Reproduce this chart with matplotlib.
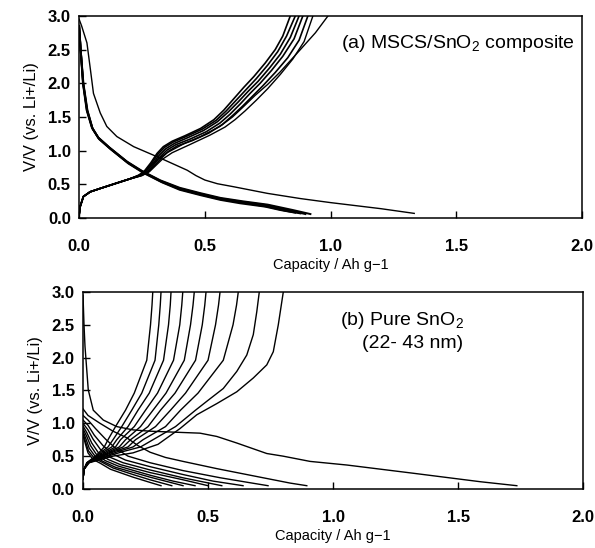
#!/usr/bin/env python
# -*- coding: utf-8 -*-

"""
充放电曲线图 (a) MSCS/SnO2 复合材料  (b) 纯 SnO2
"""

import matplotlib
matplotlib.use("Agg")
import matplotlib.pyplot as plt

# ---------------- (a) MSCS/SnO2 composite ----------------
# 首次放电
a_dis_1 = [(0.0, 2.95), (0.01, 2.85), (0.031, 2.6), (0.045, 2.2), (0.057, 1.85),
           (0.084, 1.56), (0.11, 1.36), (0.15, 1.21), (0.217, 1.06), (0.323, 0.89),
           (0.43, 0.71), (0.465, 0.63), (0.50, 0.565), (0.55, 0.51), (0.615, 0.465),
           (0.749, 0.367), (0.88, 0.29), (1.0, 0.23), (1.2, 0.14), (1.333, 0.07)]
# 后续放电 (粗线束)
a_dis_2 = [(0.0, 2.85), (0.006, 2.5), (0.015, 2.0), (0.03, 1.6), (0.05, 1.35),
           (0.075, 1.2), (0.12, 1.05), (0.19, 0.84), (0.25, 0.7), (0.323, 0.56),
           (0.40, 0.45), (0.483, 0.37), (0.562, 0.30), (0.65, 0.25), (0.75, 0.20),
           (0.85, 0.12), (0.92, 0.06)]
a_dis_3 = [(0.0, 2.85), (0.006, 2.5), (0.016, 2.0), (0.031, 1.6), (0.052, 1.34),
           (0.077, 1.19), (0.122, 1.04), (0.192, 0.83), (0.252, 0.69), (0.325, 0.55),
           (0.40, 0.44), (0.483, 0.36), (0.562, 0.29), (0.65, 0.24), (0.75, 0.19),
           (0.83, 0.12), (0.90, 0.06)]
a_dis_4 = [(0.0, 2.85), (0.006, 2.5), (0.016, 2.0), (0.032, 1.6), (0.053, 1.33),
           (0.078, 1.18), (0.124, 1.03), (0.194, 0.82), (0.254, 0.68), (0.327, 0.54),
           (0.40, 0.43), (0.483, 0.35), (0.562, 0.28), (0.65, 0.23), (0.75, 0.17),
           (0.82, 0.11), (0.88, 0.07)]
a_dis_5 = [(0.0, 2.85), (0.006, 2.5), (0.017, 2.0), (0.033, 1.6), (0.054, 1.32),
           (0.08, 1.17), (0.126, 1.02), (0.196, 0.81), (0.256, 0.67), (0.33, 0.53),
           (0.40, 0.42), (0.483, 0.34), (0.562, 0.27), (0.64, 0.22), (0.74, 0.17),
           (0.80, 0.12), (0.86, 0.08)]

# 充电曲线
a_chg_1 = [(0.0, 0.05), (0.004, 0.17), (0.017, 0.32), (0.044, 0.39), (0.084, 0.44),
           (0.15, 0.52), (0.2, 0.58), (0.25, 0.66), (0.283, 0.77), (0.315, 0.88),
           (0.35, 0.97), (0.42, 1.11), (0.483, 1.21), (0.56, 1.36), (0.61, 1.50),
           (0.65, 1.64), (0.70, 1.82), (0.749, 1.98), (0.80, 2.17), (0.88, 2.5),
           (0.94, 2.75), (0.99, 3.0)]
a_chg_2 = [(0.0, 0.05), (0.004, 0.17), (0.017, 0.32), (0.044, 0.39), (0.084, 0.44),
           (0.15, 0.52), (0.2, 0.58), (0.25, 0.63), (0.28, 0.69), (0.305, 0.78),
           (0.33, 0.87), (0.37, 0.97), (0.44, 1.09), (0.52, 1.23), (0.58, 1.35),
           (0.62, 1.46), (0.66, 1.59), (0.705, 1.75), (0.75, 1.92), (0.80, 2.13),
           (0.85, 2.36), (0.895, 2.62), (0.93, 3.0)]
a_chg_3 = [(0.0, 0.05), (0.004, 0.17), (0.017, 0.32), (0.044, 0.39), (0.084, 0.44),
           (0.15, 0.52), (0.2, 0.58), (0.235, 0.63), (0.26, 0.70), (0.285, 0.82),
           (0.31, 0.96), (0.335, 1.06), (0.37, 1.14), (0.42, 1.22), (0.483, 1.33),
           (0.536, 1.46), (0.575, 1.60), (0.615, 1.77), (0.655, 1.94), (0.695, 2.10),
           (0.74, 2.30), (0.78, 2.50), (0.81, 2.70), (0.84, 3.0)]
a_chg_4 = [(0.0, 0.05), (0.004, 0.17), (0.017, 0.32), (0.044, 0.39), (0.084, 0.44),
           (0.15, 0.52), (0.2, 0.58), (0.238, 0.63), (0.263, 0.70), (0.288, 0.81),
           (0.314, 0.95), (0.34, 1.05), (0.375, 1.13), (0.425, 1.21), (0.49, 1.32),
           (0.545, 1.45), (0.585, 1.59), (0.625, 1.75), (0.665, 1.91), (0.705, 2.07),
           (0.75, 2.27), (0.79, 2.47), (0.825, 2.70), (0.86, 3.0)]
a_chg_5 = [(0.0, 0.05), (0.004, 0.17), (0.017, 0.32), (0.044, 0.39), (0.084, 0.44),
           (0.15, 0.52), (0.2, 0.58), (0.24, 0.63), (0.266, 0.69), (0.292, 0.80),
           (0.318, 0.93), (0.345, 1.03), (0.38, 1.11), (0.43, 1.19), (0.495, 1.30),
           (0.55, 1.43), (0.592, 1.57), (0.632, 1.72), (0.672, 1.88), (0.712, 2.03),
           (0.758, 2.23), (0.80, 2.43), (0.84, 2.68), (0.875, 3.0)]
a_chg_6 = [(0.0, 0.05), (0.004, 0.17), (0.017, 0.32), (0.044, 0.39), (0.084, 0.44),
           (0.15, 0.52), (0.2, 0.58), (0.243, 0.63), (0.27, 0.68), (0.296, 0.79),
           (0.322, 0.91), (0.35, 1.01), (0.385, 1.09), (0.44, 1.17), (0.505, 1.28),
           (0.56, 1.41), (0.60, 1.54), (0.64, 1.69), (0.68, 1.85), (0.72, 2.0),
           (0.765, 2.19), (0.81, 2.40), (0.855, 2.66), (0.89, 3.0)]
a_chg_7 = [(0.0, 0.05), (0.004, 0.17), (0.017, 0.32), (0.044, 0.39), (0.084, 0.44),
           (0.15, 0.52), (0.2, 0.58), (0.246, 0.63), (0.274, 0.68), (0.30, 0.78),
           (0.327, 0.89), (0.355, 0.99), (0.39, 1.07), (0.45, 1.15), (0.515, 1.26),
           (0.57, 1.39), (0.61, 1.52), (0.65, 1.66), (0.69, 1.81), (0.73, 1.96),
           (0.78, 2.16), (0.83, 2.38), (0.875, 2.64), (0.91, 3.0)]

# ---------------- (b) Pure SnO2 ----------------
b_dis_1 = [(0.0, 2.95), (0.004, 2.5), (0.008, 2.17), (0.021, 1.51), (0.041, 1.2),
           (0.081, 1.05), (0.135, 0.95), (0.2, 0.90), (0.268, 0.88), (0.40, 0.86),
           (0.468, 0.85), (0.535, 0.80), (0.615, 0.70), (0.735, 0.54), (0.80, 0.50),
           (0.908, 0.42), (1.055, 0.365), (1.32, 0.24), (1.59, 0.11), (1.735, 0.05)]
b_dis_2 = [(0.0, 1.22), (0.02, 1.12), (0.068, 1.0), (0.12, 0.88), (0.175, 0.78),
           (0.22, 0.66), (0.268, 0.56), (0.33, 0.48), (0.40, 0.42), (0.535, 0.31),
           (0.668, 0.21), (0.828, 0.09), (0.895, 0.05)]
b_dis_3 = [(0.0, 1.12), (0.02, 1.05), (0.05, 0.92), (0.09, 0.76), (0.13, 0.62),
           (0.18, 0.50), (0.268, 0.40), (0.40, 0.28), (0.55, 0.17), (0.66, 0.10),
           (0.74, 0.05)]
b_dis_4 = [(0.0, 1.05), (0.02, 0.97), (0.045, 0.82), (0.08, 0.66), (0.12, 0.53),
           (0.17, 0.44), (0.268, 0.34), (0.40, 0.22), (0.52, 0.12), (0.64, 0.05)]
b_dis_5 = [(0.0, 1.0), (0.02, 0.9), (0.04, 0.76), (0.07, 0.6), (0.11, 0.48),
           (0.16, 0.40), (0.268, 0.29), (0.40, 0.17), (0.555, 0.05)]
b_dis_6 = [(0.0, 0.96), (0.015, 0.86), (0.035, 0.7), (0.06, 0.56), (0.1, 0.45),
           (0.15, 0.37), (0.268, 0.25), (0.40, 0.14), (0.50, 0.05)]
b_dis_7 = [(0.0, 0.92), (0.015, 0.8), (0.03, 0.66), (0.055, 0.52), (0.09, 0.43),
           (0.14, 0.35), (0.268, 0.21), (0.36, 0.12), (0.448, 0.05)]
b_dis_8 = [(0.0, 0.88), (0.012, 0.76), (0.025, 0.62), (0.05, 0.49), (0.08, 0.42),
           (0.13, 0.33), (0.268, 0.18), (0.40, 0.05)]
b_dis_9 = [(0.0, 0.85), (0.01, 0.72), (0.022, 0.58), (0.045, 0.47), (0.075, 0.41),
           (0.12, 0.32), (0.2, 0.22), (0.268, 0.14), (0.355, 0.05)]
b_dis_10 = [(0.0, 0.82), (0.01, 0.68), (0.02, 0.55), (0.04, 0.45), (0.07, 0.39),
            (0.11, 0.30), (0.2, 0.18), (0.268, 0.10), (0.312, 0.05)]

b_chg_1 = [(0.0, 0.15), (0.004, 0.30), (0.015, 0.40), (0.05, 0.50), (0.068, 0.57),
           (0.085, 0.64), (0.10, 0.75), (0.13, 0.95), (0.17, 1.2), (0.205, 1.46),
           (0.255, 1.96), (0.270, 2.5), (0.276, 2.8), (0.279, 3.0)]
b_chg_2 = [(0.0, 0.15), (0.004, 0.30), (0.016, 0.40), (0.055, 0.50), (0.076, 0.57),
           (0.10, 0.64), (0.12, 0.75), (0.155, 0.95), (0.195, 1.2), (0.235, 1.46),
           (0.288, 1.96), (0.303, 2.5), (0.309, 2.8), (0.312, 3.0)]
b_chg_3 = [(0.0, 0.15), (0.004, 0.30), (0.017, 0.40), (0.06, 0.50), (0.085, 0.57),
           (0.115, 0.64), (0.135, 0.75), (0.18, 0.95), (0.22, 1.2), (0.265, 1.46),
           (0.322, 1.96), (0.342, 2.5), (0.349, 2.8), (0.352, 3.0)]
b_chg_4 = [(0.0, 0.15), (0.004, 0.30), (0.018, 0.40), (0.065, 0.50), (0.095, 0.57),
           (0.13, 0.64), (0.15, 0.75), (0.205, 0.95), (0.25, 1.2), (0.298, 1.46),
           (0.362, 1.96), (0.387, 2.5), (0.395, 2.8), (0.399, 3.0)]
b_chg_5 = [(0.0, 0.15), (0.004, 0.30), (0.019, 0.40), (0.07, 0.50), (0.105, 0.57),
           (0.145, 0.64), (0.17, 0.75), (0.23, 0.95), (0.28, 1.2), (0.332, 1.46),
           (0.405, 1.96), (0.430, 2.5), (0.440, 2.8), (0.445, 3.0)]
b_chg_6 = [(0.0, 0.15), (0.004, 0.30), (0.020, 0.40), (0.075, 0.50), (0.115, 0.57),
           (0.16, 0.64), (0.19, 0.75), (0.26, 0.95), (0.31, 1.2), (0.368, 1.46),
           (0.450, 1.96), (0.477, 2.5), (0.487, 2.8), (0.492, 3.0)]
b_chg_7 = [(0.0, 0.15), (0.004, 0.30), (0.021, 0.40), (0.08, 0.50), (0.125, 0.57),
           (0.18, 0.64), (0.21, 0.75), (0.29, 0.95), (0.35, 1.2), (0.41, 1.46),
           (0.50, 1.96), (0.530, 2.5), (0.542, 2.8), (0.548, 3.0)]
b_chg_8 = [(0.0, 0.15), (0.004, 0.30), (0.022, 0.40), (0.09, 0.50), (0.14, 0.57),
           (0.20, 0.64), (0.24, 0.75), (0.33, 0.95), (0.39, 1.2), (0.46, 1.46),
           (0.561, 1.96), (0.600, 2.5), (0.614, 2.8), (0.621, 3.0)]
b_chg_9 = [(0.0, 0.15), (0.004, 0.30), (0.023, 0.40), (0.10, 0.50), (0.16, 0.57),
           (0.23, 0.64), (0.28, 0.75), (0.37, 0.95), (0.45, 1.2), (0.50, 1.35),
           (0.561, 1.53), (0.615, 1.79), (0.655, 2.04), (0.681, 2.35), (0.695, 2.7),
           (0.705, 3.0)]
b_chg_10 = [(0.0, 0.15), (0.004, 0.30), (0.025, 0.40), (0.12, 0.50), (0.2, 0.55),
            (0.3, 0.68), (0.388, 0.92), (0.455, 1.13), (0.535, 1.30), (0.615, 1.48),
            (0.681, 1.69), (0.735, 1.89), (0.761, 2.09), (0.781, 2.5), (0.801, 3.0)]

x_ticks = [0.0, 0.5, 1.0, 1.5, 2.0]
y_ticks = [0.0, 0.5, 1.0, 1.5, 2.0, 2.5, 3.0]
x_label = "Capacity / Ah g\u22121"
y_label = "V/V (vs. Li+/Li)"

plt.rcParams['font.family'] = ['Liberation Sans', 'DejaVu Sans']
plt.rcParams['mathtext.fontset'] = 'custom'
plt.rcParams['mathtext.rm'] = 'Liberation Sans'


def draw_curve(ax, pts, lw=1.0):
    xs = [p[0] for p in pts]
    ys = [p[1] for p in pts]
    ax.plot(xs, ys, color='black', lw=lw, solid_joinstyle='round')


def style_axes(ax):
    """统一坐标轴格式"""
    ax.set_xlim(0, 2.0)
    ax.set_ylim(0, 3.0)
    ax.set_xticks(x_ticks)
    ax.set_xticklabels([f"{t:.1f}" for t in x_ticks], fontweight='bold', fontsize=12)
    ax.set_yticks(y_ticks)
    ax.set_yticklabels([f"{t:.1f}" for t in y_ticks], fontweight='bold', fontsize=12)
    ax.tick_params(axis='x', direction='in', length=5, width=1, pad=15)
    ax.tick_params(axis='y', direction='in', length=5, width=1, pad=6)
    for sp in ax.spines.values():
        sp.set_linewidth(1.1)
    ax.set_xlabel(x_label, fontsize=10.5, labelpad=3)
    ax.set_ylabel(y_label, fontsize=12, labelpad=6)


fig = plt.figure(figsize=(5.95, 5.48), dpi=100)
ax1 = fig.add_axes([0.133, 0.602, 0.845, 0.369])
ax2 = fig.add_axes([0.1395, 0.1077, 0.8405, 0.3595])

# (a)
draw_curve(ax1, a_dis_1)
for c in [a_dis_2, a_dis_3, a_dis_4, a_dis_5]:
    draw_curve(ax1, c, lw=1.4)
draw_curve(ax1, a_chg_1)
draw_curve(ax1, a_chg_2)
for c in [a_chg_3, a_chg_4, a_chg_5, a_chg_6, a_chg_7]:
    draw_curve(ax1, c, lw=1.2)
style_axes(ax1)
ax1.text(0.986, 0.84, r"(a) MSCS/SnO$_{\mathrm{2}}$ composite", transform=ax1.transAxes,
         ha='right', va='baseline', fontsize=14)

# (b)
for c in [b_dis_1, b_dis_2, b_dis_3, b_dis_4, b_dis_5, b_dis_6, b_dis_7,
          b_dis_8, b_dis_9, b_dis_10]:
    draw_curve(ax2, c)
for c in [b_chg_1, b_chg_2, b_chg_3, b_chg_4, b_chg_5, b_chg_6, b_chg_7,
          b_chg_8, b_chg_9, b_chg_10]:
    draw_curve(ax2, c)
style_axes(ax2)
ax2.text(0.514, 0.832, r"(b) Pure SnO$_{\mathrm{2}}$", transform=ax2.transAxes,
         ha='left', va='baseline', fontsize=14)
ax2.text(0.558, 0.716, "(22- 43 nm)", transform=ax2.transAxes,
         ha='left', va='baseline', fontsize=14)

fig.savefig("out.png", dpi=100)
plt.close(fig)
